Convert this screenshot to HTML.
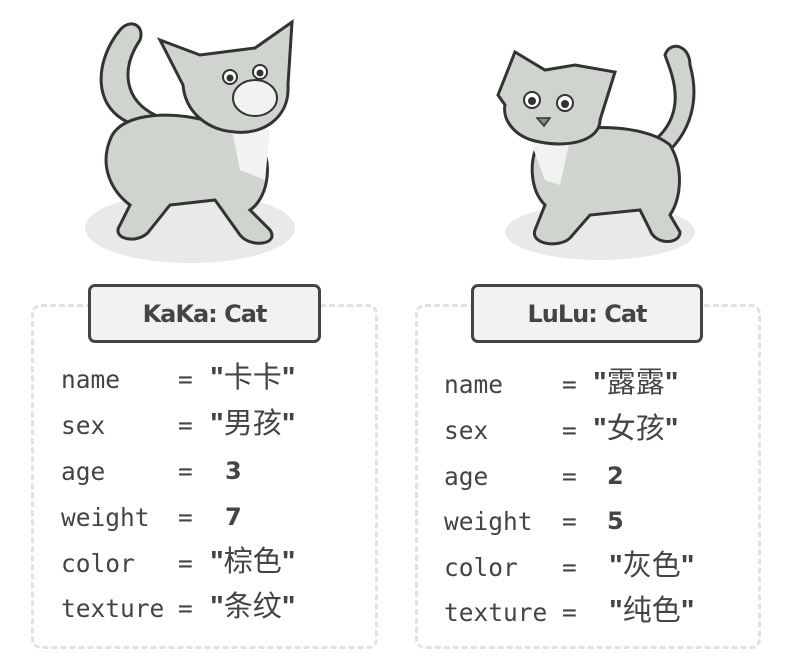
<!DOCTYPE html>
<html><head><meta charset="utf-8"><style>
body{margin:0;width:793px;height:669px;background:#fff;position:relative;overflow:hidden;font-family:"DejaVu Sans Mono","Liberation Mono",monospace;}
.dash{position:absolute;border:3px dashed #e2e2e2;border-radius:10px;box-sizing:border-box;}
.title{position:absolute;border:3px solid #444;border-radius:7px;background:#f2f2f2;box-sizing:border-box;text-align:center;font-family:"DejaVu Sans","Liberation Sans",sans-serif;font-weight:bold;font-size:24px;color:#444;line-height:54px;letter-spacing:-1px;}
.t{position:absolute;font-size:24.5px;color:#444;line-height:30px;white-space:pre;}
.v{position:absolute;font-family:"Liberation Sans","Noto Sans CJK SC",sans-serif;font-size:29px;color:#444;line-height:30px;white-space:pre;}
.v b{font-weight:bold;}
.n{position:absolute;font-family:"DejaVu Sans",sans-serif;font-size:24px;font-weight:bold;color:#444;line-height:30px;}
svg{position:absolute;left:0;top:0}
</style></head><body>
<svg width="793" height="669">
<ellipse cx="190" cy="228" rx="105" ry="35" fill="#e9e9e9"/>
<path d="M135,125 C90,110 95,60 120,30 C130,18 145,25 140,40 C120,70 125,100 155,115 Z" fill="#d0d4cf" stroke="#333" stroke-width="3"/>
<path d="M110,140 C120,110 180,110 220,125 L260,140 C275,170 265,200 250,210 L270,230 C280,245 250,248 240,235 L215,200 L170,205 L150,230 C140,245 110,240 120,225 L130,205 C110,190 100,165 110,140 Z" fill="#d0d4cf" stroke="#333" stroke-width="3"/>
<path d="M230,120 L270,130 L265,180 L240,170 Z" fill="#f2f2f2"/>
<path d="M160,40 L200,55 L255,48 L292,22 L288,85 C290,120 260,135 235,132 C205,130 185,110 183,85 Z" fill="#d0d4cf" stroke="#333" stroke-width="3"/>
<ellipse cx="255" cy="98" rx="22" ry="18" fill="#f2f2f2" stroke="#333" stroke-width="2"/>
<circle cx="230" cy="77" r="7" fill="#fff" stroke="#333" stroke-width="2"/><circle cx="260" cy="72" r="7" fill="#fff" stroke="#333" stroke-width="2"/>
<circle cx="230" cy="78" r="3.5" fill="#333"/><circle cx="260" cy="73" r="3.5" fill="#333"/>
<ellipse cx="600" cy="232" rx="95" ry="28" fill="#e9e9e9"/>
<path d="M655,140 C690,110 670,70 665,55 C670,40 690,45 690,65 C700,100 690,130 670,150 Z" fill="#d0d4cf" stroke="#333" stroke-width="3"/>
<path d="M540,140 C560,125 640,120 670,145 C685,170 680,200 670,215 L680,232 C680,245 655,245 650,230 L640,210 L590,215 L570,238 C560,248 530,245 535,230 L545,205 C530,190 528,160 540,140 Z" fill="#d0d4cf" stroke="#333" stroke-width="3"/>
<path d="M530,140 L570,140 L560,185 L545,180 Z" fill="#f2f2f2"/>
<path d="M515,52 L545,70 L575,65 L615,72 L600,120 C600,140 570,148 540,142 C515,138 502,120 505,105 L498,95 Z" fill="#d0d4cf" stroke="#333" stroke-width="3"/>
<circle cx="532" cy="100" r="8" fill="#fff" stroke="#333" stroke-width="2"/><circle cx="565" cy="103" r="8" fill="#fff" stroke="#333" stroke-width="2"/>
<circle cx="532" cy="101" r="4" fill="#333"/><circle cx="565" cy="104" r="4" fill="#333"/>
<path d="M537,118 L550,118 L544,126 Z" fill="#888" stroke="#333" stroke-width="1.5"/>
</svg>
<div class="dash" style="left:31px;top:304px;width:347px;height:345px"></div>
<div class="dash" style="left:415px;top:304px;width:346px;height:345px"></div>
<div class="title" style="left:88px;top:284px;width:233px;height:59px">KaKa: Cat</div>
<div class="title" style="left:471px;top:284px;width:232px;height:59px">LuLu: Cat</div>

<div class="t" style="left:61px;top:365px">name</div><div class="t" style="left:178px;top:365px">=</div><div class="v" style="left:210px;top:363px"><b>"</b>卡卡<b>"</b></div>
<div class="t" style="left:61px;top:411px">sex</div><div class="t" style="left:178px;top:411px">=</div><div class="v" style="left:210px;top:409px"><b>"</b>男孩<b>"</b></div>
<div class="t" style="left:61px;top:457px">age</div><div class="t" style="left:178px;top:457px">=</div><div class="n" style="left:225px;top:456px">3</div>
<div class="t" style="left:61px;top:503px">weight</div><div class="t" style="left:178px;top:503px">=</div><div class="n" style="left:225px;top:502px">7</div>
<div class="t" style="left:61px;top:549px">color</div><div class="t" style="left:178px;top:549px">=</div><div class="v" style="left:210px;top:547px"><b>"</b>棕色<b>"</b></div>
<div class="t" style="left:61px;top:594px">texture</div><div class="t" style="left:178px;top:594px">=</div><div class="v" style="left:210px;top:592px"><b>"</b>条纹<b>"</b></div>

<div class="t" style="left:444px;top:370px">name</div><div class="t" style="left:562px;top:370px">=</div><div class="v" style="left:593px;top:368px"><b>"</b>露露<b>"</b></div>
<div class="t" style="left:444px;top:416px">sex</div><div class="t" style="left:562px;top:416px">=</div><div class="v" style="left:593px;top:414px"><b>"</b>女孩<b>"</b></div>
<div class="t" style="left:444px;top:462px">age</div><div class="t" style="left:562px;top:462px">=</div><div class="n" style="left:607px;top:461px">2</div>
<div class="t" style="left:444px;top:507px">weight</div><div class="t" style="left:562px;top:507px">=</div><div class="n" style="left:607px;top:506px">5</div>
<div class="t" style="left:444px;top:553px">color</div><div class="t" style="left:562px;top:553px">=</div><div class="v" style="left:609px;top:551px"><b>"</b>灰色<b>"</b></div>
<div class="t" style="left:444px;top:598px">texture</div><div class="t" style="left:562px;top:598px">=</div><div class="v" style="left:609px;top:596px"><b>"</b>纯色<b>"</b></div>
</body></html>
